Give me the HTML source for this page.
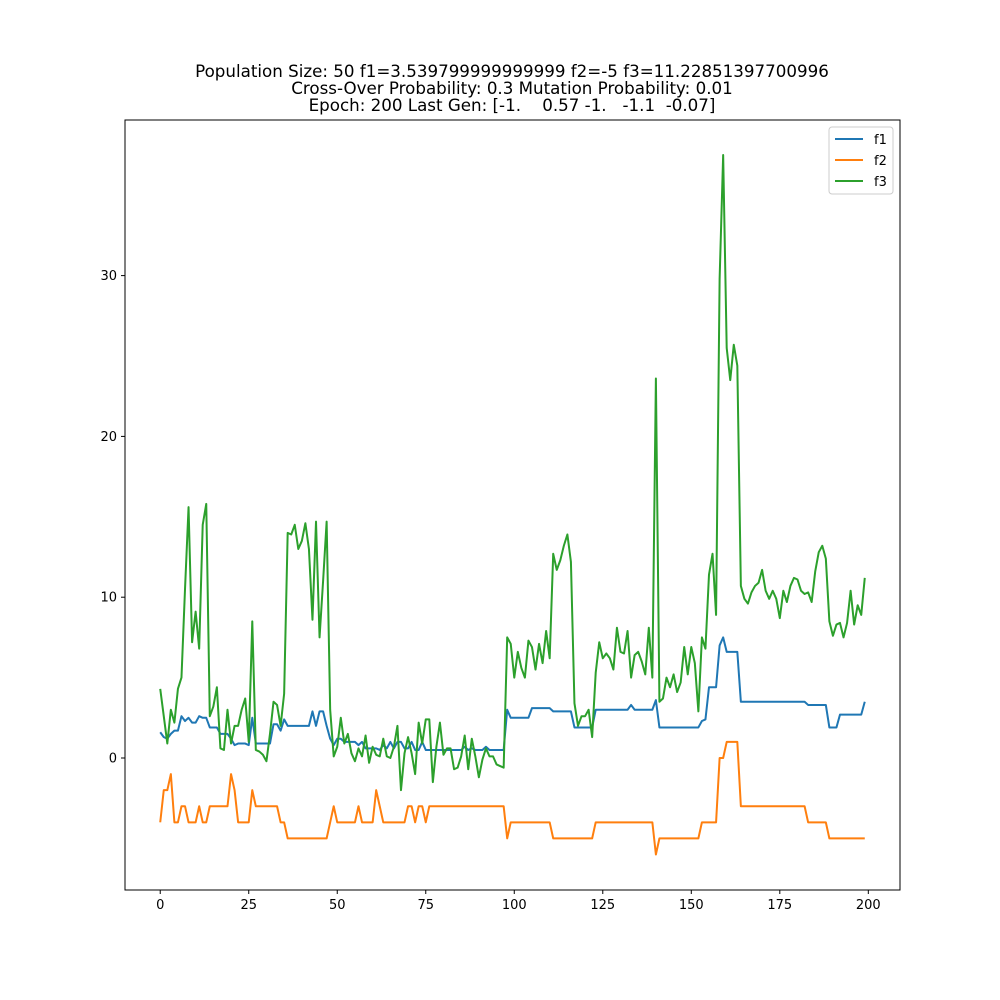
<!DOCTYPE html>
<html><head><meta charset="utf-8">
<style>
body{margin:0;background:#fff;}
svg{display:block;font-family:"DejaVu Sans","Liberation Sans",sans-serif;}
.t{white-space:pre;}
</style></head>
<body>
<svg id="chart" width="1000" height="1000">
<rect width="1000" height="1000" fill="#fff"/>
<text class="t" x="512" y="77" text-anchor="middle" font-size="16.7">Population Size: 50 f1=3.539799999999999 f2=-5 f3=11.22851397700996</text>
<text class="t" x="512" y="94" text-anchor="middle" font-size="16.7">Cross-Over Probability: 0.3 Mutation Probability: 0.01</text>
<text class="t" x="512" y="111" text-anchor="middle" font-size="16.7">Epoch: 200 Last Gen: [-1.    0.57 -1.   -1.1  -0.07]</text>
<g id="plot"></g>
<rect x="125" y="120" width="775" height="770" fill="none" stroke="#000" stroke-width="1"/>
<g id="axes"></g>
<g>
<rect x="829" y="127" width="64" height="67" rx="3" fill="#fff" stroke="#ccc"/>
<line x1="835" y1="139" x2="863" y2="139" stroke="#1f77b4" stroke-width="2"/>
<text x="874" y="144" font-size="13">f1</text>
<line x1="835" y1="160" x2="863" y2="160" stroke="#ff7f0e" stroke-width="2"/>
<text x="874" y="165" font-size="13">f2</text>
<line x1="835" y1="181" x2="863" y2="181" stroke="#2ca02c" stroke-width="2"/>
<text x="874" y="186" font-size="13">f3</text>
</g>
</svg>
<script>
const xTicks=[0,25,50,75,100,125,150,175,200];
const yTicks=[0,10,20,30];
const f1=[1.6,1.3,1.2,1.5,1.7,1.7,2.6,2.3,2.5,2.2,2.2,2.6,2.5,2.5,1.9,1.9,1.9,1.5,1.5,1.5,1.2,0.8,0.9,0.9,0.9,0.8,2.5,0.9,0.9,0.9,0.9,0.9,2.1,2.1,1.7,2.4,2.0,2.0,2.0,2.0,2.0,2.0,2.0,2.9,2.0,2.9,2.9,2.0,1.2,0.8,1.2,1.2,1.0,1.0,1.0,1.0,0.8,1.0,0.6,0.6,0.6,0.6,0.5,0.8,0.6,1.0,0.6,1.0,1.0,0.6,0.6,1.0,0.5,0.5,1.0,0.5,0.5,0.5,0.5,0.5,0.5,0.5,0.5,0.5,0.5,0.5,0.7,0.5,0.6,0.5,0.5,0.5,0.7,0.5,0.5,0.5,0.5,0.5,3.0,2.5,2.5,2.5,2.5,2.5,2.5,3.1,3.1,3.1,3.1,3.1,3.1,2.9,2.9,2.9,2.9,2.9,2.9,1.9,1.9,1.9,1.9,1.9,1.9,3.0,3.0,3.0,3.0,3.0,3.0,3.0,3.0,3.0,3.0,3.3,3.0,3.0,3.0,3.0,3.0,3.0,3.6,1.9,1.9,1.9,1.9,1.9,1.9,1.9,1.9,1.9,1.9,1.9,1.9,2.3,2.4,4.4,4.4,4.4,7.0,7.5,6.6,6.6,6.6,6.6,3.5,3.5,3.5,3.5,3.5,3.5,3.5,3.5,3.5,3.5,3.5,3.5,3.5,3.5,3.5,3.5,3.5,3.5,3.5,3.3,3.3,3.3,3.3,3.3,3.3,1.9,1.9,1.9,2.7,2.7,2.7,2.7,2.7,2.7,2.7,3.5];
const f2=[-4,-2,-2,-1,-4,-4,-3,-3,-4,-4,-4,-3,-4,-4,-3,-3,-3,-3,-3,-3,-1,-2,-4,-4,-4,-4,-2,-3,-3,-3,-3,-3,-3,-3,-4,-4,-5,-5,-5,-5,-5,-5,-5,-5,-5,-5,-5,-5,-4,-3,-4,-4,-4,-4,-4,-4,-3,-4,-4,-4,-4,-2,-3,-4,-4,-4,-4,-4,-4,-4,-3,-3,-4,-3,-3,-4,-3,-3,-3,-3,-3,-3,-3,-3,-3,-3,-3,-3,-3,-3,-3,-3,-3,-3,-3,-3,-3,-3,-5,-4,-4,-4,-4,-4,-4,-4,-4,-4,-4,-4,-4,-5,-5,-5,-5,-5,-5,-5,-5,-5,-5,-5,-5,-4,-4,-4,-4,-4,-4,-4,-4,-4,-4,-4,-4,-4,-4,-4,-4,-4,-6,-5,-5,-5,-5,-5,-5,-5,-5,-5,-5,-5,-5,-4,-4,-4,-4,-4,0,0,1,1,1,1,-3,-3,-3,-3,-3,-3,-3,-3,-3,-3,-3,-3,-3,-3,-3,-3,-3,-3,-3,-4,-4,-4,-4,-4,-4,-5,-5,-5,-5,-5,-5,-5,-5,-5,-5,-5];
const f3=[4.3,2.6,0.9,3.0,2.2,4.3,5.0,10.5,15.6,7.2,9.1,6.8,14.5,15.8,2.6,3.2,4.4,0.6,0.5,3.0,0.9,2.0,2.0,3.0,3.7,1.0,8.5,0.5,0.4,0.2,-0.2,1.5,3.5,3.3,2.0,4.0,14.0,13.9,14.5,13.0,13.5,14.6,13.0,8.6,14.7,7.5,11.0,14.7,3.0,0.1,0.7,2.5,0.9,1.5,0.3,-0.2,0.6,0.1,1.4,-0.3,0.7,0.2,0.1,1.2,0.1,0.0,0.7,2.0,-2.0,0.3,1.3,0.3,-1.0,2.2,0.9,2.4,2.4,-1.5,0.7,2.2,0.2,0.6,0.6,-0.7,-0.6,0.1,1.4,-0.7,1.2,0.1,-1.2,-0.1,0.6,0.1,0.1,-0.4,-0.5,-0.6,7.5,7.1,5.0,6.6,5.6,5.0,7.3,6.9,5.5,7.1,5.9,7.9,6.2,12.7,11.7,12.3,13.2,13.9,12.2,3.4,2.0,2.6,2.6,3.0,1.3,5.3,7.2,6.2,6.5,6.2,5.5,8.1,6.6,6.5,7.9,5.0,6.4,6.6,6.0,5.2,8.1,5.0,23.6,3.5,3.7,5.0,4.4,5.2,4.1,4.7,6.9,5.2,6.9,5.9,2.9,7.5,6.8,11.4,12.7,8.9,29.8,37.5,25.5,23.5,25.7,24.4,10.7,9.9,9.6,10.3,10.7,10.9,11.7,10.4,9.9,10.4,9.9,8.7,10.4,9.7,10.7,11.2,11.1,10.4,10.2,10.3,9.7,11.6,12.8,13.2,12.4,8.5,7.6,8.3,8.4,7.5,8.4,10.4,8.3,9.5,8.9,11.2];

const X0=125,X1=900,Y0=890,Y1=120;
const xmin=-9.95,xmax=208.95;
function sx(v){return X0+(v-xmin)/(xmax-xmin)*(X1-X0);}
function sy(v){return 758-v*16.08;}
const NS='http://www.w3.org/2000/svg';
const plot=document.getElementById('plot');
const axes=document.getElementById('axes');
function mk(tag,attrs,parent){const e=document.createElementNS(NS,tag);for(const k in attrs)e.setAttribute(k,attrs[k]);parent.appendChild(e);return e;}
function drawLine(arr,color,name){
  const pts=arr.map((v,i)=>sx(i).toFixed(2)+','+sy(v).toFixed(2)).join(' ');
  const p=mk('polyline',{points:pts,fill:'none',stroke:color,'stroke-width':2,'stroke-linejoin':'round'},plot);
  
  
}
drawLine(f1,'#1f77b4','series-f1');
drawLine(f2,'#ff7f0e','series-f2');
drawLine(f3,'#2ca02c','series-f3');
xTicks.forEach(t=>{
  const x=sx(t);
  const l=mk('line',{x1:x,y1:Y0,x2:x,y2:Y0+4,stroke:'#000'},axes);
  
  
  const tx=mk('text',{x:x,y:Y0+19,'text-anchor':'middle','font-size':13},axes);
  tx.textContent=t;
  
  
});
yTicks.forEach(t=>{
  const y=sy(t);
  const l=mk('line',{x1:X0-4,y1:y,x2:X0,y2:y,stroke:'#000'},axes);
  
  
  const tx=mk('text',{x:X0-8,y:y+4.5,'text-anchor':'end','font-size':13},axes);
  tx.textContent=t;
  
  
});
</script>
</body></html>
